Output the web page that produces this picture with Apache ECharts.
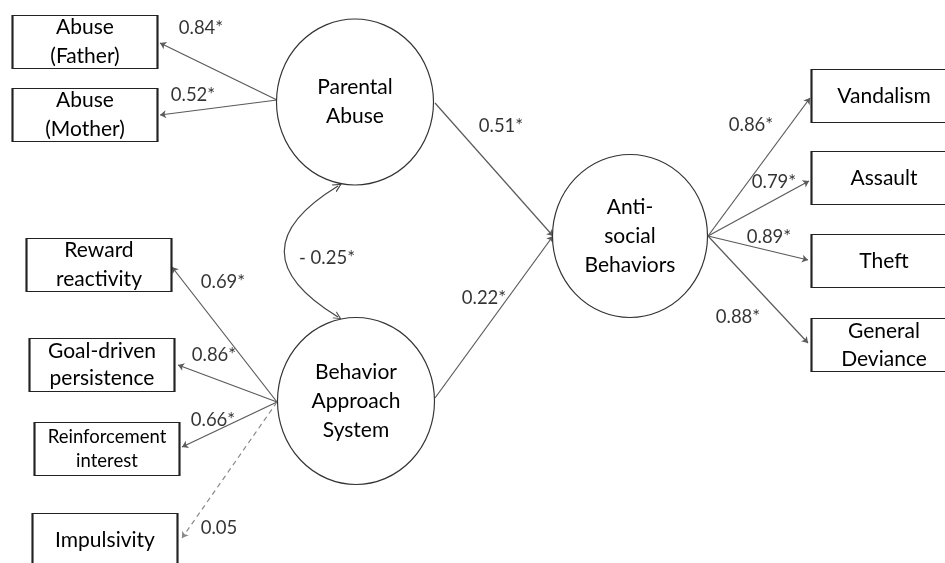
<!DOCTYPE html>
<html>
<head>
<meta charset="utf-8">
<script src="https://cdn.jsdelivr.net/npm/echarts@6/dist/echarts.min.js"></script>
<style>
  html, body { margin: 0; padding: 0; background: #fff; }
  #chart { width: 945px; height: 563px; }
</style>
</head>
<body>
<div id="chart"></div>
<script>
// latent factors and their indicators
const latentNames = ['Parental\nAbuse', 'Behavior\nApproach\nSystem', 'Anti-\nsocial\nBehaviors']
const abuseItems = ['Abuse\n(Father)', 'Abuse\n(Mother)']
const abuseLoadings = ['0.84*', '0.52*']
const basItems = ['Reward\nreactivity', 'Goal-driven\npersistence', 'Reinforcement\ninterest', 'Impulsivity']
const basLoadings = ['0.69*', '0.86*', '0.66*', '0.05']
const basSignificant = [true, true, true, false]
const asbItems = ['Vandalism', 'Assault', 'Theft', 'General\nDeviance']
const asbLoadings = ['0.86*', '0.79*', '0.89*', '0.88*']
const pathCoefs = ['0.51*', '0.22*']   // Parental Abuse -> ASB, BAS -> ASB
const correlation = '- 0.25*'

// layout (pixel space of a hidden 945x563 grid)
const latentPos = [[355, 102], [356, 401], [630, 236]]
const latentSize = [[157, 166], [157, 167], [155, 163]]
const abusePos = [[85, 42], [85, 115]]
const basPos = [[99, 265], [102, 365], [107, 449], [105, 540]]
const asbPos = [[884, 96], [884, 178], [884, 261], [884, 345]]
const boxSize = [145, 53]

const paLeft = [277, 100], basLeft = [277, 402], asbRight = [708, 236]
const paRight = [435, 103], basRight = [435, 398], asbLeft = [553, 236]
const abuseTips = [[160, 43], [160, 115]]
const basTips = [[172, 267], [178, 365], [182, 447], [182, 538]]
const asbTips = [[810, 98], [809, 181], [808, 260], [808, 343]]

const abuseLabelPos = [[201, 28], [193, 95]]
const basLabelPos = [[223, 282], [214, 355], [213, 420], [219, 528]]
const asbLabelPos = [[751, 125], [774, 182], [769, 237], [738, 317]]
const pathLabelPos = [[501, 126], [484, 298]]
const corrLabelPos = [327, 258]

const FONT = 'Lato'
const LINE = '#5a5a5a'
const ellipse = 'path://M0,50A50,50,0,1,1,100,50A50,50,0,1,1,0,50Z'
const chevron = 'path://M0,10L5,0L10,10L8.6,10L5,2.8L1.4,10Z'

function boxes(names, pos, fontSize, lineHeight) {
  return names.map((n, i) => ({
    name: n, value: pos[i],
    label: { fontSize: fontSize[i], lineHeight: lineHeight[i] }
  }))
}

const boxData = [
  ...boxes(abuseItems, abusePos, [21, 21], [29, 29]),
  ...boxes(basItems, basPos, [21, 21, 18.5, 21], [29, 27, 24, 28]),
  ...boxes(asbItems, asbPos, [21, 21, 21, 21], [28, 28, 28, 28])
]

const arrowData = [
  ...abuseTips.map(t => ({ coords: [paLeft, t] })),
  ...basTips.map((t, i) => ({
    coords: [basLeft, t],
    lineStyle: basSignificant[i] ? {} : { type: [5, 4], color: '#888' }
  })),
  ...asbTips.map(t => ({ coords: [asbRight, t] })),
  { coords: [paRight, asbLeft] },
  { coords: [basRight, asbLeft] }
]

const coefData = [
  ...abuseLoadings.map((v, i) => ({ name: v, value: abuseLabelPos[i] })),
  ...basLoadings.map((v, i) => ({ name: v, value: basLabelPos[i] })),
  ...asbLoadings.map((v, i) => ({ name: v, value: asbLabelPos[i] })),
  ...pathCoefs.map((v, i) => ({ name: v, value: pathLabelPos[i] })),
  { name: correlation, value: corrLabelPos }
]

const chart = echarts.init(document.getElementById('chart'), null, { renderer: 'canvas' })
chart.setOption({
  backgroundColor: '#fff',
  animation: false,
  grid: { left: 0, right: 0, top: 0, bottom: 0 },
  xAxis: { type: 'value', min: 0, max: 945, show: false },
  yAxis: { type: 'value', min: 0, max: 563, inverse: true, show: false },
  series: [
    {
      name: 'paths', type: 'lines', coordinateSystem: 'cartesian2d', z: 1,
      symbol: ['none', 'arrow'], symbolSize: 6,
      lineStyle: { color: LINE, width: 1.2, opacity: 1 },
      data: arrowData
    },
    {
      name: 'covariance', type: 'lines', coordinateSystem: 'cartesian2d', z: 1,
      symbol: [chevron, chevron], symbolSize: [9, 8],
      lineStyle: { color: '#444', width: 1.2, opacity: 1, curveness: -0.82 },
      data: [{ coords: [[338, 186], [338, 317]] }]
    },
    {
      name: 'latent', type: 'scatter', z: 2, clip: false,
      symbol: ellipse,
      itemStyle: { color: '#fff', borderColor: '#333', borderWidth: 1.2, opacity: 1 },
      label: {
        show: true, position: 'inside', formatter: '{b}',
        color: '#000', fontFamily: FONT, fontSize: 21, lineHeight: 29
      },
      data: latentNames.map((n, i) => ({ name: n, value: latentPos[i], symbolSize: latentSize[i] }))
    },
    {
      name: 'observed', type: 'scatter', z: 2, clip: false,
      symbol: 'rect', symbolSize: boxSize,
      itemStyle: { color: '#fff', borderColor: '#222', borderWidth: 1.3, opacity: 1 },
      label: {
        show: true, position: 'inside', formatter: '{b}',
        color: '#000', fontFamily: FONT
      },
      data: boxData
    },
    {
      name: 'coefficients', type: 'scatter', z: 3, clip: false,
      symbolSize: 0,
      label: {
        show: true, position: 'inside', formatter: '{b}',
        color: '#000', fontFamily: FONT, fontSize: 18.5
      },
      data: coefData
    }
  ]
})
</script>
</body>
</html>
